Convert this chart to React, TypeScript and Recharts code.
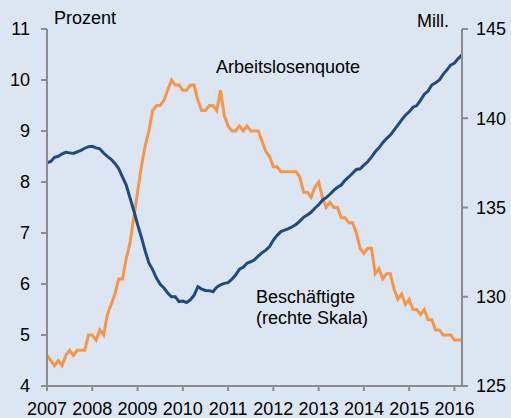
import { LineChart, Line, XAxis, YAxis } from 'recharts';

const startYear = 2007;
const yearTicks = [2007, 2008, 2009, 2010, 2011, 2012, 2013, 2014, 2015, 2016];
const quoteTicks = [4, 5, 6, 7, 8, 9, 10, 11];
const millTicks = [125, 130, 135, 140, 145];

// Arbeitslosenquote in Prozent, monatlich ab Jan 2007
const arbeitslosenquote = [
  4.6, 4.5, 4.4, 4.5, 4.4, 4.6, 4.7, 4.6, 4.7, 4.7, 4.7, 5.0,
  5.0, 4.9, 5.1, 5.0, 5.4, 5.6, 5.8, 6.1, 6.1, 6.5, 6.8, 7.3,
  7.8, 8.3, 8.7, 9.0, 9.4, 9.5, 9.5, 9.6, 9.8, 10.0, 9.9, 9.9,
  9.8, 9.8, 9.9, 9.9, 9.6, 9.4, 9.4, 9.5, 9.5, 9.4, 9.8, 9.3,
  9.1, 9.0, 9.0, 9.1, 9.0, 9.1, 9.0, 9.0, 9.0, 8.8, 8.6, 8.5,
  8.3, 8.3, 8.2, 8.2, 8.2, 8.2, 8.2, 8.1, 7.8, 7.8, 7.7, 7.9,
  8.0, 7.7, 7.5, 7.6, 7.5, 7.5, 7.3, 7.3, 7.2, 7.2, 7.0, 6.7,
  6.6, 6.7, 6.7, 6.2, 6.3, 6.1, 6.2, 6.2, 5.9, 5.7, 5.8, 5.6,
  5.7, 5.5, 5.5, 5.4, 5.5, 5.3, 5.3, 5.1, 5.1, 5.0, 5.0, 5.0,
  4.9, 4.9, 4.9,
];

// Beschäftigte in Mill.
const beschaeftigte = [
  137.5, 137.58, 137.81, 137.87, 138.01, 138.09, 138.06, 138.03, 138.12, 138.2, 138.32, 138.41,
  138.43, 138.34, 138.29, 138.05, 137.86, 137.7, 137.47, 137.18, 136.72, 136.26, 135.54, 134.83,
  134.05, 133.35, 132.58, 131.89, 131.52, 131.05, 130.7, 130.49, 130.21, 130.0, 130.0, 129.73,
  129.76, 129.68, 129.83, 130.09, 130.56, 130.43, 130.35, 130.34, 130.28, 130.54, 130.67, 130.75,
  130.79, 130.98, 131.22, 131.55, 131.65, 131.88, 131.96, 132.07, 132.28, 132.47, 132.61, 132.81,
  133.18, 133.44, 133.65, 133.73, 133.82, 133.92, 134.05, 134.24, 134.45, 134.58, 134.73, 134.96,
  135.15, 135.41, 135.55, 135.74, 135.96, 136.13, 136.26, 136.52, 136.71, 136.92, 137.13, 137.17,
  137.37, 137.56, 137.82, 138.12, 138.34, 138.63, 138.86, 139.06, 139.34, 139.62, 139.91, 140.17,
  140.36, 140.62, 140.71, 141.0, 141.34, 141.52, 141.86, 141.99, 142.14, 142.46, 142.71, 142.98,
  143.09, 143.34, 143.55,
];

const chartData = arbeitslosenquote.map((q, i) => ({
  t: startYear + i / 12,
  quote: q,
  besch: beschaeftigte[i],
}));

const font = '"Liberation Sans", Arial, sans-serif';
const axisGrey = '#8c8c8c';
const tickStyle = { fill: '#000', fontSize: 18, fontFamily: font };

export default function App() {
  return (
    <div
      style={{
        position: 'absolute',
        left: 0,
        top: 0,
        width: 511,
        height: 418,
        background: '#dce6f2',
        fontFamily: font,
      }}
    >
      <LineChart
        width={511}
        height={418}
        data={chartData}
        margin={{ top: 29, right: 0, bottom: 0, left: 0 }}
      >
        <XAxis
          dataKey="t"
          type="number"
          domain={[startYear, startYear + (arbeitslosenquote.length - 1) / 12]}
          ticks={yearTicks}
          interval={0}
          height={32}
          tick={tickStyle}
          tickSize={5}
          tickMargin={11}
          axisLine={{ stroke: axisGrey, strokeWidth: 2 }}
          tickLine={{ stroke: axisGrey, strokeWidth: 2 }}
        />
        <YAxis
          yAxisId="left"
          domain={[4, 11]}
          ticks={quoteTicks}
          interval={0}
          width={47}
          tick={tickStyle}
          tickSize={6}
          tickMargin={11}
          axisLine={{ stroke: axisGrey, strokeWidth: 2 }}
          tickLine={{ stroke: axisGrey, strokeWidth: 2 }}
        />
        <YAxis
          yAxisId="right"
          orientation="right"
          domain={[125, 145]}
          ticks={millTicks}
          interval={0}
          width={49}
          tick={tickStyle}
          tickSize={6}
          tickMargin={8}
          axisLine={{ stroke: axisGrey, strokeWidth: 2 }}
          tickLine={{ stroke: axisGrey, strokeWidth: 2 }}
        />
        <Line
          yAxisId="left"
          dataKey="quote"
          stroke="#f79646"
          strokeWidth={3}
          dot={false}
          isAnimationActive={false}
        />
        <Line
          yAxisId="right"
          dataKey="besch"
          stroke="#1f4a82"
          strokeWidth={3}
          dot={false}
          isAnimationActive={false}
        />
      </LineChart>
      <svg
        width={511}
        height={418}
        style={{ position: 'absolute', left: 0, top: 0, pointerEvents: 'none' }}
      >
        <g fontFamily={font} fontSize={18} fill="#000">
          <text x={54} y={24}>Prozent</text>
          <text x={417} y={27}>Mill.</text>
          <text x={216} y={73}>Arbeitslosenquote</text>
          <text x={256} y={303}>Beschäftigte</text>
          <text x={256} y={324}>(rechte Skala)</text>
        </g>
      </svg>
    </div>
  );
}
